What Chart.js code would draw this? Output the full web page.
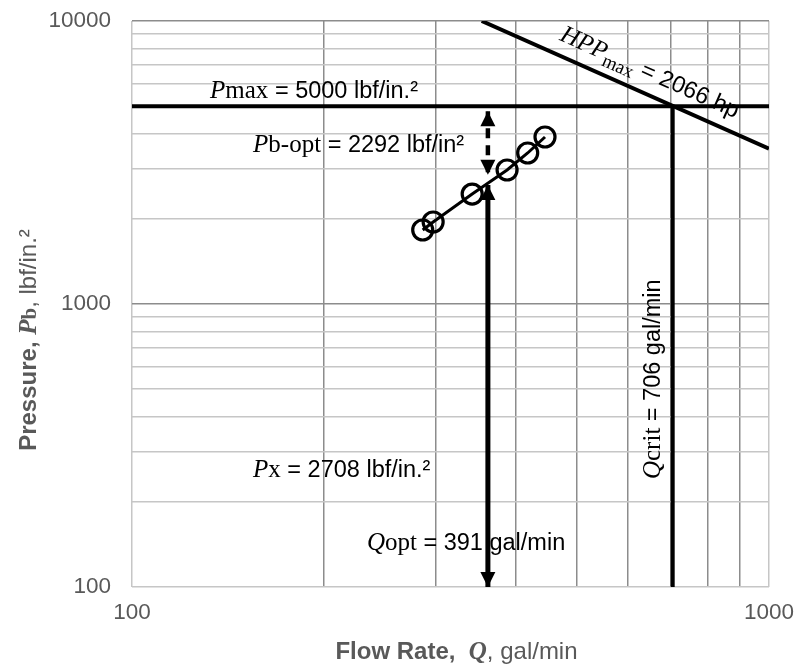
<!DOCTYPE html>
<html>
<head>
<meta charset="utf-8">
<script src="https://cdn.jsdelivr.net/npm/chart.js@4.4.0/dist/chart.umd.min.js"></script>
<style>
  html, body { margin: 0; padding: 0; background: #fff; }
</style>
</head>
<body>
<canvas id="pumpChart" width="798" height="672"></canvas>
<script>
// operating points (gal/min, lbf/in.2)
var flowRate = [286, 297, 342, 388, 418, 445];
var pressure = [1826, 1949, 2446, 2975, 3417, 3891];

// reference lines
var pMaxLine = [[100, 5000], [1000, 5000]];
var qCritLine = [[706, 5000], [706, 100]];
var hppLine = [[354, 10000], [1000, 3541]];
var qOptArrow = [[362, 2633], [362, 100]];
var pbOptArrow = [[362, 4800], [362, 2860]];

// grid positions and the ticks that get a label
var xGrid = [100, 200, 300, 400, 500, 600, 700, 800, 900, 1000];
var yGrid = [100, 200, 300, 400, 500, 600, 700, 800, 900,
             1000, 2000, 3000, 4000, 5000, 6000, 7000, 8000, 9000, 10000];
var xTickLabels = [100, 1000];
var yTickLabels = [100, 1000, 10000];

var SERIF = '"Liberation Serif", "Times New Roman", serif';
var SANS = '"Liberation Sans", Arial, sans-serif';

function toPts(arr) {
  return arr.map(function (p) { return { x: p[0], y: p[1] }; });
}
function isPow10(v) {
  var l = Math.log10(v);
  return Math.abs(l - Math.round(l)) < 1e-6;
}

function lineSet(data, width, dash) {
  return {
    data: toPts(data),
    showLine: true,
    borderColor: '#000',
    borderWidth: width,
    borderDash: dash || [],
    pointRadius: 0,
    fill: false
  };
}

// rich text: parts drawn one after another on one baseline
function rich(ctx, x, y, parts, angle, center) {
  ctx.save();
  ctx.translate(x, y);
  ctx.rotate(angle || 0);
  ctx.textBaseline = 'alphabetic';
  ctx.textAlign = 'left';
  var w = 0;
  parts.forEach(function (p) { ctx.font = p.f; w += ctx.measureText(p.t).width; });
  var cx = center ? -w / 2 : 0;
  parts.forEach(function (p) {
    ctx.font = p.f;
    ctx.fillStyle = p.c || '#000';
    ctx.fillText(p.t, cx, p.dy || 0);
    cx += ctx.measureText(p.t).width;
  });
  ctx.restore();
}

function head(ctx, x, y, dir) {
  var len = 15, hw = 7.5;
  ctx.beginPath();
  ctx.moveTo(x, y);
  ctx.lineTo(x - hw, y - dir * len);
  ctx.lineTo(x + hw, y - dir * len);
  ctx.closePath();
  ctx.fill();
}

var A = '23.5px ' + SANS;
var It = 'italic 25px ' + SERIF;
var Rm = '25px ' + SERIF;

var notes = {
  id: 'notes',
  afterDatasetsDraw: function (chart) {
    var ctx = chart.ctx, xs = chart.scales.x, ys = chart.scales.y;
    function px(q) { return xs.getPixelForValue(q); }
    function py(p) { return ys.getPixelForValue(p); }
    ctx.save();
    ctx.fillStyle = '#000';

    // arrow heads
    head(ctx, px(qOptArrow[0][0]), py(qOptArrow[0][1]), -1);
    head(ctx, px(qOptArrow[1][0]), py(qOptArrow[1][1]), 1);
    head(ctx, px(pbOptArrow[0][0]), py(pbOptArrow[0][1]), -1);
    head(ctx, px(pbOptArrow[1][0]), py(pbOptArrow[1][1]), 1);

    rich(ctx, px(132.6), py(5347), [
      { t: 'P', f: It }, { t: 'max', f: Rm }, { t: ' = 5000 lbf/in.\u00b2', f: A }
    ]);
    rich(ctx, px(154.9), py(3443), [
      { t: 'P', f: It }, { t: 'b-opt', f: Rm }, { t: ' = 2292 lbf/in\u00b2', f: A }
    ]);
    rich(ctx, px(154.9), py(244.7), [
      { t: 'P', f: It }, { t: 'x', f: Rm }, { t: ' = 2708 lbf/in.\u00b2', f: A }
    ]);
    rich(ctx, px(233.8), py(135.1), [
      { t: 'Q', f: It }, { t: 'opt', f: Rm }, { t: ' = 391 gal/min', f: A }
    ]);
    rich(ctx, px(674), py(240.7), [
      { t: 'Q', f: It }, { t: 'crit', f: Rm }, { t: ' = 706 gal/min', f: A }
    ], -Math.PI / 2);

    // label along the horsepower line
    var x0 = px(hppLine[0][0]), y0 = py(hppLine[0][1]);
    var x1 = px(hppLine[1][0]), y1 = py(hppLine[1][1]);
    var ang = Math.atan2(y1 - y0, x1 - x0);
    var ux = Math.cos(ang), uy = Math.sin(ang);
    var along = 78, off = 14;
    rich(ctx, x0 + ux * along + uy * off, y0 + uy * along - ux * off, [
      { t: 'HPP', f: It }, { t: 'max', f: '19px ' + SERIF, dy: 6 }, { t: ' = 2066 hp', f: A }
    ], ang);

    // axis titles
    var G = '#595959';
    rich(ctx, (chart.chartArea.left + chart.chartArea.right) / 2 + 6, 659, [
      { t: 'Flow Rate,  ', f: 'bold 24px ' + SANS, c: G },
      { t: 'Q', f: 'italic bold 25px ' + SERIF, c: G },
      { t: ', gal/min', f: '24px ' + SANS, c: G }
    ], 0, true);
    rich(ctx, 36, 340, [
      { t: 'Pressure, ', f: 'bold 24px ' + SANS, c: G },
      { t: 'P', f: 'italic bold 25px ' + SERIF, c: G },
      { t: 'b', f: 'bold 21px ' + SERIF, c: G },
      { t: ', lbf/in.\u00b2', f: '24px ' + SANS, c: G }
    ], -Math.PI / 2, true);
    ctx.restore();
  }
};

var curve = {
  data: flowRate.map(function (q, i) { return { x: q, y: pressure[i] }; }),
  showLine: true,
  borderColor: '#000',
  borderWidth: 3,
  pointRadius: 10,
  pointHoverRadius: 10,
  pointBorderWidth: 3.2,
  pointBorderColor: '#000',
  pointBackgroundColor: 'rgba(0,0,0,0)'
};

var tickFont = { family: SANS, size: 22.5 };

function setTicks(values) {
  return function (scale) {
    scale.ticks = values.map(function (v) { return { value: v, major: isPow10(v) }; });
  };
}

new Chart(document.getElementById('pumpChart'), {
  type: 'scatter',
  data: {
    datasets: [
      lineSet(pMaxLine, 4),
      lineSet(qCritLine, 4),
      lineSet(hppLine, 4),
      lineSet(qOptArrow, 5),
      lineSet(pbOptArrow, 4.5, [10, 7]),
      curve
    ]
  },
  options: {
    responsive: false,
    animation: false,
    layout: { padding: { left: 0, top: 21, right: 29, bottom: 0 } },
    plugins: { legend: { display: false }, tooltip: { enabled: false } },
    scales: {
      x: {
        type: 'logarithmic',
        min: 100,
        max: 1000,
        border: { display: false },
        grid: {
          drawTicks: false,
          lineWidth: 1.5,
          color: function (c) {
            return c.tick && isPow10(c.tick.value) ? '#c6c6c6' : '#8c8c8c';
          }
        },
        ticks: {
          autoSkip: false,
          maxRotation: 0,
          padding: 12,
          color: '#595959',
          font: tickFont,
          callback: function (v) {
            return xTickLabels.indexOf(Math.round(v)) >= 0 ? String(Math.round(v)) : '';
          }
        },
        afterBuildTicks: setTicks(xGrid),
        afterFit: function (s) {
          s.height = 85;
          s.paddingLeft = 0; s.paddingRight = 0;
        }
      },
      y: {
        type: 'logarithmic',
        min: 100,
        max: 10000,
        border: { display: false },
        grid: {
          drawTicks: false,
          lineWidth: 1.5,
          color: function (c) {
            var v = c.tick && c.tick.value;
            if (v > 100 && isPow10(v)) return '#8c8c8c';
            return '#c6c6c6';
          }
        },
        ticks: {
          autoSkip: false,
          padding: 21,
          color: '#595959',
          font: tickFont,
          callback: function (v) {
            return yTickLabels.indexOf(Math.round(v)) >= 0 ? String(Math.round(v)) : '';
          }
        },
        afterBuildTicks: setTicks(yGrid),
        afterFit: function (s) {
          s.width = 132;
          s.paddingTop = 0; s.paddingBottom = 0;
        }
      }
    }
  },
  plugins: [notes]
});
</script>
</body>
</html>
